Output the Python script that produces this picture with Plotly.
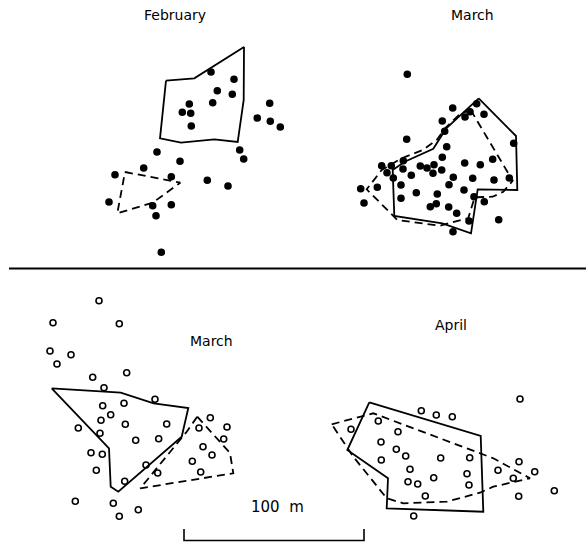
import plotly.graph_objects as go

W, H = 586, 542

# Positions on the field map (map units, y grows downwards)
feb_x = [211, 234, 217.3, 232.3, 189.3, 212.7, 182.3, 190.7, 191.3, 269.7, 257.3, 270.3, 280.3,
         239.7, 243.7, 157, 180, 143.7, 115, 171.3, 207.3, 228, 109, 152.7, 171.3, 156, 161.3]
feb_y = [72, 79.3, 90.7, 94.3, 104, 102.7, 112.3, 113.3, 126, 103.3, 118, 121.3, 127,
         150, 159, 152, 161.3, 168, 174.7, 176.7, 180.3, 186, 202, 205.7, 204.7, 215.7, 252.3]
feb_solid_x = [166, 194.3, 244, 243.7, 237.7, 214.3, 181, 160, 166]
feb_solid_y = [80.7, 78.3, 47, 100, 142, 139.3, 142.7, 138.3, 80.7]
feb_dash_x = [125, 180.3, 152.7, 117.3, 125]
feb_dash_y = [172, 182.7, 202.7, 213.3, 172]

mar1_x = [407.3, 476.7, 452.7, 470, 484, 465, 442.3, 444.7, 406.7, 513.7, 446.7, 442.3, 403.3,
          492.7, 464.7, 480.3, 381.7, 391.3, 420.3, 427, 434, 441.7, 403, 387, 433, 411.3,
          393.3, 453.3, 472.7, 494, 509.3, 449, 401, 377.3, 360.7, 464, 416.3, 437.3, 474,
          401, 364, 436.3, 430.3, 448.7, 484.3, 456.7, 498.7, 469, 453]
mar1_y = [74.3, 103.7, 108, 111.7, 114.3, 117, 121, 131.3, 139.3, 143.3, 146.7, 157.3, 160.7,
          159.3, 163, 164.7, 165.7, 165.7, 166, 168, 164.7, 170, 169, 172.7, 173.3, 175.3,
          178, 177.3, 178.3, 180, 178, 184.7, 185, 187.3, 188.7, 190, 192.7, 194, 196.7,
          198.3, 203, 203.7, 206.7, 207, 201.7, 213.3, 219.7, 221, 231.7]
mar1_solid_x = [478.7, 516, 517.3, 477.7, 471, 442.3, 394.3, 392.7, 404.7, 433.3, 446, 478.7]
mar1_solid_y = [98.3, 136, 190, 189.3, 233.3, 223.3, 216, 170, 161.7, 148.7, 128.7, 98.3]
mar1_dash_x = [470.7, 506.7, 512.7, 503.3, 492.7, 474.7, 468.3, 440, 397.3, 366.7, 381.7,
               401.7, 422.7, 436.7, 445, 460, 470.7]
mar1_dash_y = [110, 170, 180.7, 191.7, 196.7, 197.3, 218, 225.7, 220, 189.3, 170,
               158.3, 150, 140, 128.3, 114, 110]

mar2_x = [99, 53, 119.3, 50, 71, 57, 126.7, 92.7, 104, 155, 124, 102.7, 110.7, 101, 125.3,
          166.7, 78.3, 100, 135.7, 158.7, 91, 102.3, 146, 157.7, 96.3, 124.7, 75.3, 113.3,
          119.3, 138.3, 210.3, 199, 227, 223.7, 203, 212, 192.3, 200.7]
mar2_y = [300.7, 322.7, 323.7, 351, 354.7, 364, 372.7, 377.3, 387.7, 399.3, 403.3, 405.7,
          414.7, 420.3, 424.3, 424, 428, 433.3, 440.3, 438.7, 452.7, 454.3, 465, 473, 470.3,
          481.3, 501.3, 503.3, 516.3, 509.7, 417.7, 428, 427, 439, 446.7, 455, 461.3, 472]
mar2_solid_x = [51.7, 120.7, 153.7, 188.3, 181.7, 118.3, 110.7, 109, 51.7]
mar2_solid_y = [388.3, 392.7, 403.3, 408, 436.7, 491.7, 486.7, 448.3, 388.3]
mar2_dash_x = [197.3, 230, 233.3, 140.3, 186.7, 197.3]
mar2_dash_y = [416.7, 453, 473.3, 488.3, 431.7, 416.7]

apr_x = [520, 421.3, 436.3, 452.3, 378.3, 351, 398, 381, 396.3, 405.7, 440.7, 469.7, 381.3,
         519, 410, 498, 534.7, 467, 513.3, 433.7, 408, 417.7, 469, 425.3, 518.7, 554.3, 413.7]
apr_y = [399, 410.7, 415, 416.7, 421, 429.3, 431.7, 442, 449.3, 456, 458, 457.7, 460,
         461.7, 469.3, 470.3, 471.7, 473.7, 478.3, 477.7, 481.7, 484, 485, 496, 496.3, 490.7, 516]
apr_solid_x = [369.3, 480.7, 483.3, 386.7, 388, 347.3, 369.3]
apr_solid_y = [402.3, 436, 511.7, 508.3, 478.3, 450, 402.3]
apr_dash_x = [331.7, 373.3, 493.3, 530, 493.3, 480, 446.7, 403.3, 386.7, 373.3, 353.3, 331.7]
apr_dash_y = [424.3, 413.3, 458.3, 478.3, 486.7, 492.7, 501.7, 503.3, 498.3, 481.7, 456.7, 424.3]

titles = ["February", "March", "March", "April"]
title_x = [175, 472, 211, 451]
title_y = [15, 15, 341, 325]

divider_x = [9, 586]
divider_y = [268.5, 268.5]

scale_label = "100 m"
scale_x = [184, 184, 364, 364]
scale_y = [529, 540.5, 540.5, 529]

FONT = "DejaVu Sans"

fig = go.Figure()

def outline(xs, ys, dashed):
    fig.add_trace(go.Scatter(
        x=xs, y=ys, mode="lines", hoverinfo="skip",
        line=dict(color="black", width=1.8, dash="8px,5px" if dashed else "solid"),
    ))

def points(xs, ys, hollow):
    fig.add_trace(go.Scatter(
        x=xs, y=ys, mode="markers", hoverinfo="skip",
        marker=dict(
            symbol="circle-open" if hollow else "circle",
            size=6 if hollow else 6,
            color="black",
            line=dict(width=1.6, color="black"),
        ),
    ))

outline(feb_solid_x, feb_solid_y, False)
outline(feb_dash_x, feb_dash_y, True)
points(feb_x, feb_y, False)

outline(mar1_solid_x, mar1_solid_y, False)
outline(mar1_dash_x, mar1_dash_y, True)
points(mar1_x, mar1_y, False)

outline(mar2_solid_x, mar2_solid_y, False)
outline(mar2_dash_x, mar2_dash_y, True)
points(mar2_x, mar2_y, True)

outline(apr_solid_x, apr_solid_y, False)
outline(apr_dash_x, apr_dash_y, True)
points(apr_x, apr_y, True)

# Separator between the two rows of maps
fig.add_trace(go.Scatter(x=divider_x, y=divider_y, mode="lines", hoverinfo="skip",
                         line=dict(color="black", width=2)))

# Scale bar
fig.add_trace(go.Scatter(x=scale_x, y=scale_y, mode="lines", hoverinfo="skip",
                         line=dict(color="black", width=1.6)))

for t, tx, ty in zip(titles, title_x, title_y):
    fig.add_annotation(x=tx, y=ty, text=t, showarrow=False,
                       font=dict(family=FONT, size=14, color="black"))
fig.add_annotation(x=277, y=507, text=scale_label.replace(" ", "&nbsp;&nbsp;"),
                   showarrow=False,
                   font=dict(family=FONT, size=15, color="black"))

fig.update_layout(
    width=W, height=H,
    margin=dict(l=0, r=0, t=0, b=0),
    paper_bgcolor="white", plot_bgcolor="white",
    showlegend=False,
    xaxis=dict(range=[0, W], visible=False, fixedrange=True),
    yaxis=dict(range=[H, 0], visible=False, fixedrange=True),
)

fig.write_html("out.html")
